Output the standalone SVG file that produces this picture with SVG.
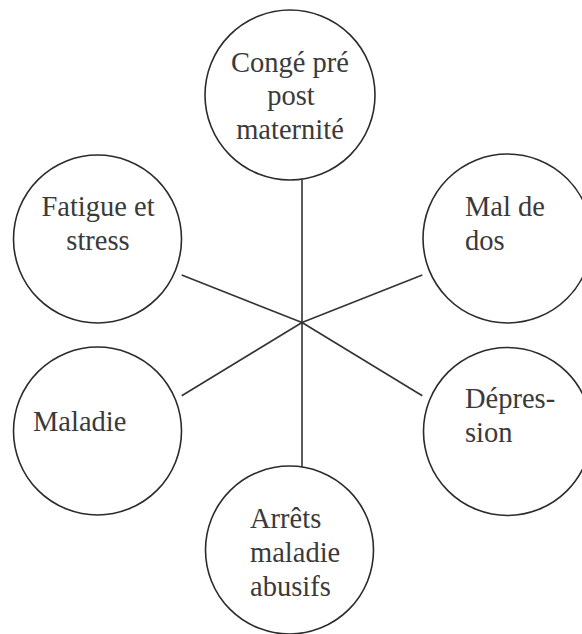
<svg xmlns="http://www.w3.org/2000/svg" width="582" height="634" viewBox="0 0 582 634">
<style>
.c{fill:#fff;stroke:#2b2b2b;stroke-width:1.6}
.t{font-family:"Liberation Serif","Times New Roman",serif;font-size:28.5px;fill:#3a3a3a}
.m{text-anchor:middle}
.l{stroke:#333;stroke-width:1.6;fill:none}
</style>
<rect width="582" height="634" fill="#fff"/>
<g id="connectors">
<line class="l" x1="302" y1="180" x2="302" y2="467"/>
<line class="l" x1="181.7" y1="275" x2="302" y2="322.5"/>
<line class="l" x1="422.3" y1="275" x2="302" y2="322.5"/>
<line class="l" x1="181.7" y1="395.7" x2="302" y2="322.5"/>
<line class="l" x1="422.3" y1="395.7" x2="302" y2="322.5"/>
</g>
<g id="conge">
<circle class="c" cx="290" cy="95" r="85"/>
<text class="t m" x="290" y="72">Congé pré</text>
<text class="t m" x="291" y="105">post</text>
<text class="t m" x="290" y="139">maternité</text>
</g>
<g id="maldedos">
<circle class="c" cx="507.5" cy="238.5" r="84.5"/>
<text class="t" x="465" y="216">Mal de</text>
<text class="t" x="465" y="250">dos</text>
</g>
<g id="fatigue">
<circle class="c" cx="97.5" cy="239" r="84"/>
<text class="t m" x="98" y="215.7">Fatigue et</text>
<text class="t m" x="98" y="250">stress</text>
</g>
<g id="maladie">
<circle class="c" cx="97.5" cy="431" r="84"/>
<text class="t" x="33" y="431">Maladie</text>
</g>
<g id="depression">
<circle class="c" cx="507.5" cy="431.5" r="84"/>
<text class="t" x="465" y="408">Dépres-</text>
<text class="t" x="465" y="441.7">sion</text>
</g>
<g id="arrets">
<circle class="c" cx="289.5" cy="550" r="84"/>
<text class="t" x="250" y="528">Arrêts</text>
<text class="t" x="250" y="561.7">maladie</text>
<text class="t" x="250" y="595.7">abusifs</text>
</g>
</svg>
